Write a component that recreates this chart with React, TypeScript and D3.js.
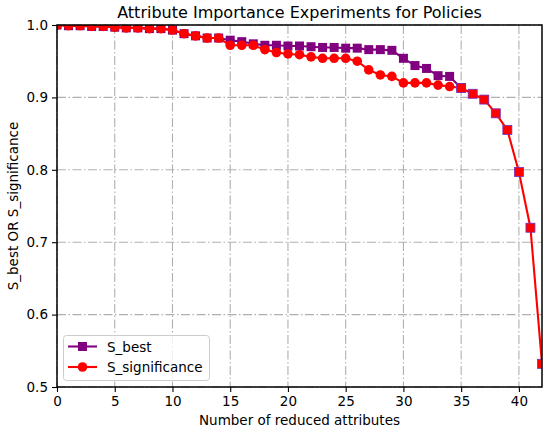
import { useEffect, useRef } from "react";
import * as d3 from "d3";

// number of reduced attributes, 0..35 for the two separate curves
const xsMain = d3.range(0, 36);
const sBest = [
  1.0, 0.999, 0.999, 0.998, 0.998, 0.997, 0.996, 0.996, 0.995, 0.995, 0.993,
  0.988, 0.985, 0.982, 0.982, 0.979, 0.977, 0.974, 0.972, 0.972, 0.971, 0.971,
  0.97, 0.969, 0.969, 0.968, 0.968, 0.966, 0.966, 0.965, 0.954, 0.944, 0.94,
  0.93, 0.929, 0.913,
];
const sSignificance = [
  1.0, 0.999, 0.999, 0.998, 0.998, 0.997, 0.996, 0.996, 0.995, 0.995, 0.993,
  0.988, 0.985, 0.982, 0.982, 0.972, 0.972, 0.972, 0.966, 0.962, 0.96, 0.959,
  0.956, 0.954, 0.954, 0.954, 0.95, 0.938, 0.931, 0.929, 0.92, 0.92, 0.92,
  0.917, 0.915, 0.913,
];
// shared tail where both curves coincide
const xsTail = d3.range(35, 43);
const sTail = [0.913, 0.905, 0.897, 0.878, 0.855, 0.797, 0.72, 0.532];

const xTicks = [0, 5, 10, 15, 20, 25, 30, 35, 40];
const yTicks = [0.5, 0.6, 0.7, 0.8, 0.9, 1.0];

const FONT = "DejaVu Sans, sans-serif";
const PURPLE = "#800080";
const RED = "#ff0000";

export default function App() {
  const svgRef = useRef<SVGSVGElement>(null);

  useEffect(() => {
    if (!svgRef.current) return;
    const svg = d3.select(svgRef.current);
    svg.selectAll("*").remove();

    const left = 57,
      right = 542,
      top = 25,
      bottom = 387;

    const x = d3.scaleLinear().domain([0, 42]).range([left, right]);
    const y = d3.scaleLinear().domain([0.5, 1.0]).range([bottom, top]);

    svg
      .append("defs")
      .append("clipPath")
      .attr("id", "plot-clip")
      .append("rect")
      .attr("x", left)
      .attr("y", top)
      .attr("width", right - left)
      .attr("height", bottom - top);

    // grid
    const grid = svg.append("g");
    grid
      .selectAll("line.gx")
      .data(xTicks)
      .enter()
      .append("line")
      .attr("x1", (d) => x(d))
      .attr("x2", (d) => x(d))
      .attr("y1", top)
      .attr("y2", bottom);
    grid
      .selectAll("line.gy")
      .data(yTicks)
      .enter()
      .append("line")
      .attr("x1", left)
      .attr("x2", right)
      .attr("y1", (d) => y(d))
      .attr("y2", (d) => y(d));
    grid
      .selectAll("line")
      .attr("stroke", "#b0b0b0")
      .attr("stroke-width", 1.1)
      .attr("stroke-dasharray", "9,2.5,1.5,2.5");

    const plot = svg.append("g").attr("clip-path", "url(#plot-clip)");
    const line = d3
      .line<[number, number]>()
      .x((d) => x(d[0]))
      .y((d) => y(d[1]));

    const bestPts = xsMain.map((v, i) => [v, sBest[i]] as [number, number]);
    const sigPts = xsMain.map(
      (v, i) => [v, sSignificance[i]] as [number, number]
    );
    const tailPts = xsTail.map((v, i) => [v, sTail[i]] as [number, number]);

    const ms = 9;

    // S_best
    plot
      .append("path")
      .attr("d", line(bestPts))
      .attr("fill", "none")
      .attr("stroke", PURPLE)
      .attr("stroke-width", 2.1);
    plot
      .selectAll("rect.best")
      .data(bestPts)
      .enter()
      .append("rect")
      .attr("x", (d) => x(d[0]) - ms / 2)
      .attr("y", (d) => y(d[1]) - ms / 2)
      .attr("width", ms)
      .attr("height", ms)
      .attr("fill", PURPLE);

    // S_significance
    plot
      .append("path")
      .attr("d", line(sigPts))
      .attr("fill", "none")
      .attr("stroke", RED)
      .attr("stroke-width", 2.1);
    plot
      .selectAll("circle.sig")
      .data(sigPts)
      .enter()
      .append("circle")
      .attr("cx", (d) => x(d[0]))
      .attr("cy", (d) => y(d[1]))
      .attr("r", ms / 2 + 0.3)
      .attr("fill", RED);

    // tail
    plot
      .append("path")
      .attr("d", line(tailPts))
      .attr("fill", "none")
      .attr("stroke", RED)
      .attr("stroke-width", 2.1);
    plot
      .selectAll("rect.tail")
      .data(tailPts)
      .enter()
      .append("rect")
      .attr("x", (d) => x(d[0]) - ms / 2)
      .attr("y", (d) => y(d[1]) - ms / 2)
      .attr("width", ms)
      .attr("height", ms)
      .attr("fill", RED)
      .attr("stroke", "#7030c0")
      .attr("stroke-width", 0.8);

    // frame
    svg
      .append("rect")
      .attr("x", left)
      .attr("y", top)
      .attr("width", right - left)
      .attr("height", bottom - top)
      .attr("fill", "none")
      .attr("stroke", "#000")
      .attr("stroke-width", 1.5);

    // axes
    const xAxis = svg
      .append("g")
      .attr("transform", `translate(0,${bottom})`)
      .call(d3.axisBottom(x).tickValues(xTicks).tickSize(5).tickPadding(4));
    const yAxis = svg
      .append("g")
      .attr("transform", `translate(${left},0)`)
      .call(
        d3
          .axisLeft(y)
          .tickValues(yTicks)
          .tickFormat(d3.format(".1f"))
          .tickSize(5)
          .tickPadding(4)
      );
    [xAxis, yAxis].forEach((a) => {
      a.select(".domain").remove();
      a.selectAll("line").attr("stroke", "#000").attr("stroke-width", 1.1);
      a.selectAll("text")
        .attr("fill", "#000")
        .style("font-family", FONT)
        .style("font-size", "13.5px");
    });

    // labels
    svg
      .append("text")
      .attr("x", (left + right) / 2)
      .attr("y", 18)
      .attr("text-anchor", "middle")
      .style("font-family", FONT)
      .style("font-size", "16px")
      .text("Attribute Importance Experiments for Policies");
    svg
      .append("text")
      .attr("x", (left + right) / 2)
      .attr("y", 425)
      .attr("text-anchor", "middle")
      .style("font-family", FONT)
      .style("font-size", "13.5px")
      .text("Number of reduced attributes");
    svg
      .append("text")
      .attr("transform", `translate(18,${(top + bottom) / 2}) rotate(-90)`)
      .attr("text-anchor", "middle")
      .style("font-family", FONT)
      .style("font-size", "13.5px")
      .text("S_best OR S_significance");

    // legend
    const lg = svg.append("g");
    lg.append("rect")
      .attr("x", 63.5)
      .attr("y", 335.5)
      .attr("width", 146)
      .attr("height", 45)
      .attr("rx", 3)
      .attr("fill", "#fff")
      .attr("fill-opacity", 0.8)
      .attr("stroke", "#cccccc");
    const items = [
      { label: "S_best", color: PURPLE, shape: "square" },
      { label: "S_significance", color: RED, shape: "circle" },
    ];
    items.forEach((it, i) => {
      const cy = 346.5 + i * 20.5;
      lg.append("line")
        .attr("x1", 68)
        .attr("x2", 97)
        .attr("y1", cy)
        .attr("y2", cy)
        .attr("stroke", it.color)
        .attr("stroke-width", 2.1);
      if (it.shape === "square") {
        lg.append("rect")
          .attr("x", 82.5 - ms / 2)
          .attr("y", cy - ms / 2)
          .attr("width", ms)
          .attr("height", ms)
          .attr("fill", it.color);
      } else {
        lg.append("circle")
          .attr("cx", 82.5)
          .attr("cy", cy)
          .attr("r", ms / 2 + 0.3)
          .attr("fill", it.color);
      }
      lg.append("text")
        .attr("x", 107)
        .attr("y", cy + 5)
        .style("font-family", FONT)
        .style("font-size", "13.5px")
        .text(it.label);
    });
  }, []);

  return (
    <svg
      ref={svgRef}
      width={550}
      height={433}
      style={{ position: "absolute", left: 0, top: 0, background: "#fff" }}
    />
  );
}
